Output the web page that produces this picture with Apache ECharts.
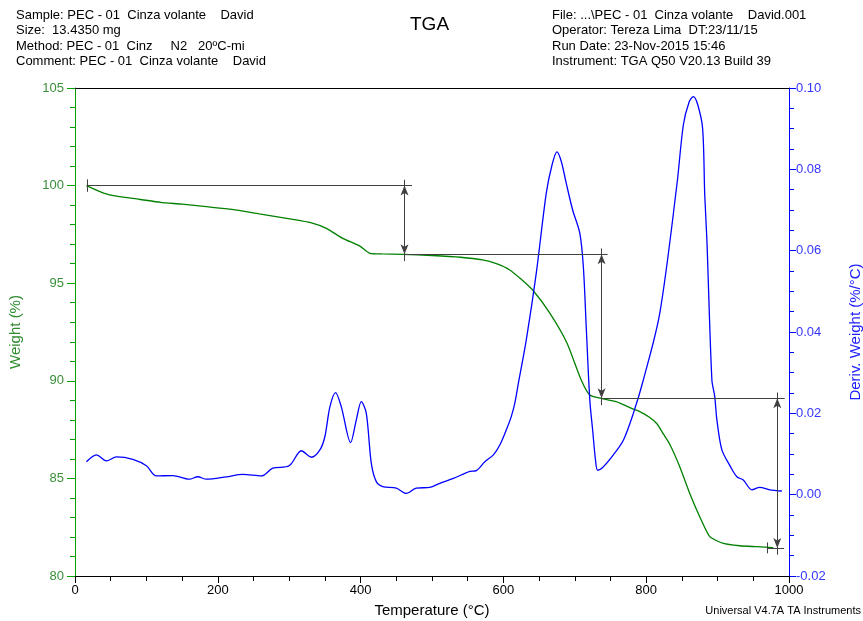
<!DOCTYPE html>
<html>
<head>
<meta charset="utf-8">
<script src="https://cdn.jsdelivr.net/npm/echarts@6/dist/echarts.min.js"></script>
<style>
html,body{margin:0;padding:0;background:#fff;overflow:hidden;}
#chart{width:863px;height:621px;}
</style>
</head>
<body>
<div id="chart"></div>
<script>
// ---- Data ----
const weightTemps = [16, 40, 60, 90, 120, 150, 184, 220, 258, 305, 330, 352, 375, 399, 413, 430, 459, 500, 540, 571, 590, 609, 625, 641, 665, 689, 709, 721, 737, 758, 782, 791, 805, 815, 824, 833, 847, 861, 875, 889, 908, 931, 955, 978];
const weightPct   = [100.0, 99.62, 99.45, 99.30, 99.14, 99.05, 98.92, 98.78, 98.55, 98.27, 98.10, 97.81, 97.30, 96.90, 96.53, 96.50, 96.48, 96.42, 96.33, 96.19, 96.00, 95.68, 95.20, 94.65, 93.47, 91.94, 90.04, 89.27, 89.10, 88.93, 88.55, 88.42, 88.12, 87.80, 87.28, 86.75, 85.60, 84.23, 83.04, 82.02, 81.67, 81.55, 81.50, 81.45];

const derivTemps = [16, 30, 44, 58, 81, 100, 114, 137, 160, 172, 184, 212, 235, 261, 277, 300, 317, 331, 343, 350, 357, 365, 373, 386, 394, 401, 408, 415, 422, 431, 450, 464, 478, 497, 511, 530, 553, 562, 574, 586, 595, 604, 611, 616, 621, 632, 646, 660, 668, 675, 681, 688, 697, 707, 712, 716, 721, 725, 729, 732, 739, 754, 768, 782, 796, 819, 843, 852, 860, 866, 872, 879, 882, 885, 892, 896, 899, 906, 918, 927, 936, 948, 959, 973, 990];
const derivVals  = [0.0081, 0.0098, 0.0083, 0.0093, 0.0087, 0.0071, 0.0046, 0.0047, 0.0038, 0.0044, 0.0038, 0.0044, 0.0050, 0.0046, 0.0065, 0.0071, 0.0108, 0.0092, 0.0110, 0.0143, 0.0216, 0.0251, 0.0216, 0.0128, 0.0184, 0.0229, 0.0200, 0.0077, 0.0032, 0.0020, 0.0016, 0.0003, 0.0016, 0.0018, 0.0028, 0.0040, 0.0057, 0.0059, 0.0081, 0.0098, 0.0122, 0.0159, 0.0192, 0.0225, 0.0274, 0.0380, 0.0544, 0.0741, 0.0810, 0.0843, 0.0820, 0.0766, 0.0700, 0.0643, 0.0560, 0.0413, 0.0233, 0.0159, 0.0085, 0.0060, 0.0067, 0.0098, 0.0134, 0.0200, 0.0282, 0.0446, 0.0762, 0.0909, 0.0965, 0.0979, 0.0960, 0.0901, 0.0737, 0.0626, 0.0282, 0.0241, 0.0184, 0.0110, 0.0069, 0.0044, 0.0036, 0.0012, 0.0018, 0.0012, 0.0009];

// step analysis annotations
const stepLevels   = [100.0, 96.48, 89.10, 81.44];
const stepArrowT   = [461.5, 737.5, 983.6];
const stepLineFrom = [17, 460.5, 737, 970];
const stepLineTo   = [472, 746, 994, 993];

const noteTemps   = [336, 708.5, 910, 763];
const noteWeights = [101.52, 100.49, 91.42, 83.02];
const noteTexts   = ['3.518%\n(0.4726mg)', '7.377%\n(0.9911mg)', '7.681%\n(1.032mg)', 'Residue:\n81.44%\n(10.94mg)'];

const xTicks = {min: 0, max: 1000, interval: 200};
const yLeftTicks = {min: 80, max: 105, interval: 5};
const yRightTicks = {min: -0.02, max: 0.10, interval: 0.02};

const headerLeft = ['Sample: PEC - 01  Cinza volante    David', 'Size:  13.4350 mg', 'Method: PEC - 01  Cinz     N2   20\u00baC-mi', 'Comment: PEC - 01  Cinza volante    David'];
const headerRight = ['File: ...\\PEC - 01  Cinza volante    David.001', 'Operator: Tereza Lima  DT:23/11/15', 'Run Date: 23-Nov-2015 15:46', 'Instrument: TGA Q50 V20.13 Build 39'];

// ---- Build ----
const FONT = '"Liberation Sans", Arial, sans-serif';
const weightData = weightTemps.map((t, i) => [t, weightPct[i]]);
const derivData = derivTemps.map((t, i) => [t, derivVals[i]]);

const annColor = '#404040';
const lines = [];
for (let i = 0; i < stepLevels.length; i++) {
  lines.push([{coord: [stepLineFrom[i], stepLevels[i]]}, {coord: [stepLineTo[i], stepLevels[i]]}]);
}
lines.push([{coord: [stepLineFrom[0], stepLevels[0] + 0.32]}, {coord: [stepLineFrom[0], stepLevels[0] - 0.32]}]);
lines.push([{coord: [stepLineFrom[3], stepLevels[3] + 0.28]}, {coord: [stepLineFrom[3], stepLevels[3] - 0.28]}]);
for (let i = 0; i < stepArrowT.length; i++) {
  lines.push([{coord: [stepArrowT[i], stepLevels[i] + 0.3]}, {coord: [stepArrowT[i], stepLevels[i + 1] - 0.35]}]);
}
const arrows = [];
for (let i = 0; i < stepArrowT.length; i++) {
  arrows.push([{coord: [stepArrowT[i], stepLevels[i]]}, {coord: [stepArrowT[i], stepLevels[i + 1]]}]);
}

const graphics = [];
headerLeft.forEach((s, i) => graphics.push({type: 'text', left: 16, top: 9 + i * 15.3, style: {text: s, font: '13px ' + FONT, fill: '#000'}}));
headerRight.forEach((s, i) => graphics.push({type: 'text', left: 552, top: 9 + i * 15.3, style: {text: s, font: '13px ' + FONT, fill: '#000'}}));
graphics.push({type: 'text', left: 410, top: 15, style: {text: 'TGA', font: '19px ' + FONT, fill: '#000'}});
graphics.push({type: 'text', right: 2, top: 605, style: {text: 'Universal V4.7A TA Instruments', font: '11px ' + FONT, fill: '#000'}});

const chart = echarts.init(document.getElementById('chart'), null, {renderer: 'canvas'});
chart.setOption({
  animation: false,
  backgroundColor: '#fff',
  textStyle: {fontFamily: FONT},
  grid: {left: 75, right: 74, top: 88, bottom: 45, containLabel: false, outerBoundsMode: 'none'},
  graphic: graphics,
  xAxis: [{
    type: 'value', min: xTicks.min, max: xTicks.max, interval: xTicks.interval,
    name: 'Temperature (\u00b0C)', nameLocation: 'middle', nameGap: 27,
    nameTextStyle: {fontSize: 15, color: '#000', fontFamily: FONT},
    axisLine: {show: true, onZero: false, lineStyle: {color: '#000', width: 1}},
    axisTick: {show: true, length: 7, lineStyle: {color: '#000'}},
    minorTick: {show: true, splitNumber: 4, length: 5, lineStyle: {color: '#000'}},
    axisLabel: {fontSize: 13, color: '#000', margin: 8, fontFamily: FONT, formatter: v => String(v)},
    splitLine: {show: false}
  }, {
    type: 'value', position: 'top', min: xTicks.min, max: xTicks.max,
    axisLine: {show: true, onZero: false, lineStyle: {color: '#000', width: 1}},
    axisTick: {show: false}, axisLabel: {show: false}, splitLine: {show: false}
  }],
  yAxis: [{
    type: 'value', min: yLeftTicks.min, max: yLeftTicks.max, interval: yLeftTicks.interval,
    name: 'Weight (%)', nameLocation: 'middle', nameGap: 52, nameRotate: 90,
    nameTextStyle: {fontSize: 15, color: '#2e8b2e', fontFamily: FONT},
    axisLine: {show: true, onZero: false, lineStyle: {color: '#00a000', width: 1}},
    axisTick: {show: true, length: 8, lineStyle: {color: '#00a000'}},
    minorTick: {show: true, splitNumber: 5, length: 5, lineStyle: {color: '#00a000'}},
    axisLabel: {fontSize: 13, color: '#3a8f3a', margin: 11, fontFamily: FONT},
    splitLine: {show: false}
  }, {
    type: 'value', position: 'right', min: yRightTicks.min, max: yRightTicks.max, interval: yRightTicks.interval,
    name: 'Deriv. Weight (%/\u00b0C)', nameLocation: 'middle', nameGap: 59, nameRotate: 90,
    nameTextStyle: {fontSize: 15, color: '#2020ff', fontFamily: FONT},
    axisLine: {show: true, onZero: false, lineStyle: {color: '#0000ff', width: 1}},
    axisTick: {show: true, length: 7, lineStyle: {color: '#0000ff'}},
    minorTick: {show: true, splitNumber: 4, length: 5, lineStyle: {color: '#0000ff'}},
    axisLabel: {fontSize: 13, color: '#3535ff', margin: 7, fontFamily: FONT, formatter: v => v.toFixed(2)},
    splitLine: {show: false}
  }],
  series: [{
    name: 'Weight', type: 'line', xAxisIndex: 0, yAxisIndex: 0, data: weightData,
    showSymbol: false, symbol: 'none', smooth: 0.2,
    lineStyle: {color: '#008000', width: 1.3}, z: 3
  }, {
    name: 'Deriv', type: 'line', xAxisIndex: 0, yAxisIndex: 1, data: derivData,
    showSymbol: false, symbol: 'none', smooth: 0.3,
    lineStyle: {color: '#0000ff', width: 1.3}, z: 4
  }, {
    name: 'steps', type: 'line', xAxisIndex: 0, yAxisIndex: 0, data: [], silent: true,
    markLine: {silent: true, symbol: 'none', animation: false,
      lineStyle: {color: annColor, width: 1, type: 'solid'}, label: {show: false},
      data: lines}
  }, {
    name: 'arrows', type: 'line', xAxisIndex: 0, yAxisIndex: 0, data: [], silent: true,
    markLine: {silent: true, symbol: ['arrow', 'arrow'], symbolSize: [6, 10], animation: false,
      lineStyle: {color: annColor, width: 1, type: 'solid'}, label: {show: false},
      data: arrows}
  }, {
    name: 'notes', type: 'scatter', xAxisIndex: 0, yAxisIndex: 0, silent: true,
    symbolSize: 1, itemStyle: {opacity: 0},
    data: noteTemps.map((t, i) => ({value: [t, noteWeights[i]], text: noteTexts[i]})),
    label: {show: true, position: [0, 0], align: 'left', verticalAlign: 'top',
      fontSize: 12, lineHeight: 14.5, color: '#3a3a3a', fontFamily: FONT,
      formatter: p => p.data.text}
  }]
});
</script>
</body>
</html>
